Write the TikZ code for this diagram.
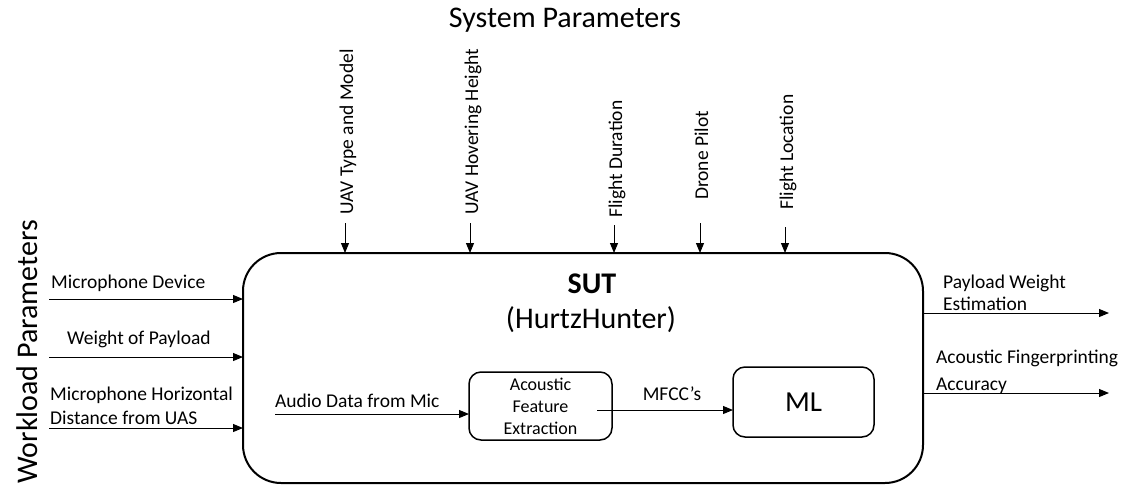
\documentclass[tikz,border=0pt]{standalone}
\usepackage{fontspec}
\setmainfont{Carlito}
\usetikzlibrary{arrows.meta}
\begin{document}
\begin{tikzpicture}[x=1pt,y=-1pt,
  arr/.style={line width=1pt,-{Triangle[length=10pt,width=8pt]}},
  lbl/.style={inner sep=0pt,font=\fontsize{19.5}{23}\selectfont},
  vlbl/.style={lbl,rotate=90,anchor=base west},
  hlbl/.style={lbl,anchor=base west},
  title/.style={inner sep=0pt,font=\fontsize{30}{36}\selectfont},
  inbox/.style={draw,line width=1.5pt,rounded corners=12pt,inner sep=0pt,outer sep=0pt}]
\useasboundingbox (0,0) rectangle (1128,499);

% main box
\node[draw,line width=2pt,rounded corners=38pt,minimum width=680pt,minimum height=230pt,inner sep=0pt,outer sep=0pt] (sut) at (583,368) {};
\node[title,anchor=base,font=\fontsize{30}{36}\selectfont\bfseries] (sutt) at (592,293) {SUT};
\node[title,anchor=base] (hh) at (591,328) {(HurtzHunter)};

% titles
\node[title,anchor=base] (sys) at (565,27) {System Parameters};
\node[title,anchor=base,rotate=90] (wl) at (37,352) {Workload Parameters};

% system parameter arrows
\coordinate (s1) at (345,223);
\coordinate (s2) at (470,223);
\coordinate (s3) at (614,225);
\coordinate (s4) at (700,223);
\coordinate (s5) at (785,227);
\foreach \c in {s1,s2,s3,s4,s5} \draw[arr] (\c) -- (\c |- sut.north);
\node[vlbl] (t1) at (353,215) {UAV Type and Model};
\node[vlbl] (t2) at (478,215) {UAV Hovering Height};
\node[vlbl] (t3) at (622,218) {Flight Duration};
\node[vlbl] (t4) at (708,200) {Drone Pilot};
\node[vlbl] (t5) at (793,210) {Flight Location};

% workload arrows
\coordinate (w1) at (49,299);
\coordinate (w2) at (49,357);
\coordinate (w3) at (49,428);
\foreach \c in {w1,w2,w3} \draw[arr] (\c) -- (\c -| sut.west);
\node[hlbl] (l1) at (51,288) {Microphone Device};
\node[hlbl] (l2) at (67,344) {Weight of Payload};
\node[hlbl] (l3a) at (50,400) {Microphone Horizontal};
\node[hlbl] (l3b) at (50,424) {Distance from UAS};

% outputs
\coordinate (o1) at (1109,313);
\coordinate (o2) at (1109,393);
\foreach \c in {o1,o2} \draw[arr] (\c -| sut.east) -- (\c);
\node[hlbl] (r1a) at (943,288) {Payload Weight};
\node[hlbl] (r1b) at (943,310) {Estimation};
\node[hlbl] (r2a) at (936,363) {Acoustic Fingerprinting};
\node[hlbl] (r2b) at (936,390) {Accuracy};

% inner pipeline
\node[inbox,minimum width=143pt,minimum height=68pt,align=center,font=\fontsize{18}{22}\selectfont] (afe) at (540.5,406) {Acoustic\\Feature\\Extraction};
\node[inbox,minimum width=141pt,minimum height=70pt,font=\fontsize{29}{34}\selectfont] (ml) at (803.5,402) {ML};
\coordinate (a0) at (275,414);
\draw[arr] (a0) -- (a0 -| afe.west);
\node[hlbl] (aud) at (275,407) {Audio Data from Mic};
\coordinate (m0) at (597,410);
\draw[arr] (m0) -- (m0 -| ml.west);
\node[lbl,anchor=base] (mf) at (672,400) {MFCC’s};
\end{tikzpicture}
\end{document}
